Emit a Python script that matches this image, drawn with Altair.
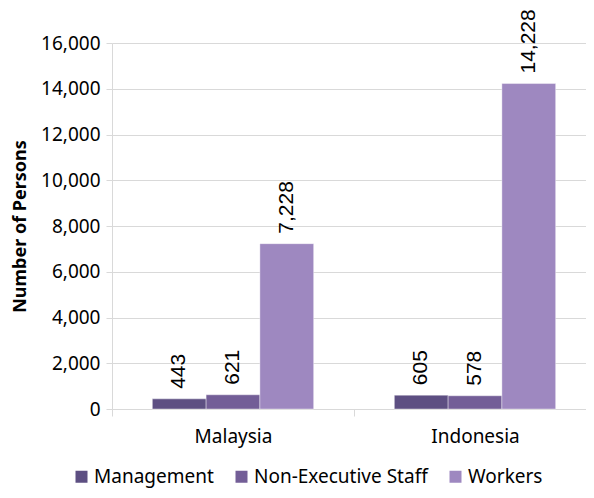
import altair as alt
import pandas as pd

countries = ["Malaysia", "Indonesia"]
series = ["Management", "Non-Executive Staff", "Workers"]
management = [443, 605]
non_executive = [621, 578]
workers = [7228, 14228]
colors = ["#5d4f82", "#735e97", "#9e88c0"]
y_ticks = [0, 2000, 4000, 6000, 8000, 10000, 12000, 14000, 16000]

rows = []
for name, vals in zip(series, [management, non_executive, workers]):
    for c, v in zip(countries, vals):
        rows.append({"country": c, "series": name, "value": v})
df = pd.DataFrame(rows)

FONT = "Noto Sans"
GRID = "#d9d9d9"

base = alt.Chart(df).encode(
    x=alt.X(
        "country:N",
        sort=countries,
        scale=alt.Scale(paddingInner=0, paddingOuter=0, range=[0, 484]),
        axis=alt.Axis(
            title=None,
            tickBand="extent",
            labelAngle=0,
            labelFontSize=19,
            labelFont=FONT,
            labelColor="#000000",
            labelPadding=11,
            domainColor=GRID,
            tickColor=GRID,
            tickSize=7,
        ),
    ),
    xOffset=alt.XOffset(
        "series:N", sort=series, scale=alt.Scale(paddingInner=0, paddingOuter=0.75)
    ),
    y=alt.Y(
        "value:Q",
        scale=alt.Scale(domain=[0, 16000], nice=False),
        axis=alt.Axis(
            values=y_ticks,
            format=",.0f",
            title="Number of Persons",
            titleFont=FONT,
            titleFontSize=18,
            titleFontWeight="bold",
            titleColor="#000000",
            titlePadding=11,
            labelFont=FONT,
            labelFontSize=19,
            labelColor="#000000",
            labelPadding=6,
            gridColor=GRID,
            domainColor=GRID,
            tickColor=GRID,
            tickSize=6,
        ),
    ),
)

bars = base.mark_bar(stroke="#ffffff", strokeWidth=0.8, strokeOpacity=0.5).encode(
    color=alt.Color(
        "series:N",
        sort=series,
        scale=alt.Scale(domain=series, range=colors),
        legend=alt.Legend(
            title=None,
            orient="none",
            direction="horizontal",
            columns=3,
            legendX=-40,
            legendY=424,
            symbolType="square",
            symbolSize=144,
            symbolStrokeWidth=0,
            symbolOpacity=1,
            labelFont=FONT,
            labelFontSize=19,
            labelColor="#000000",
            labelOffset=3,
            labelLimit=400,
            columnPadding=18,
        ),
    )
)

labels = base.mark_text(
    angle=270,
    align="left",
    baseline="middle",
    dx=10,
    font="Liberation Sans",
    fontSize=21,
    color="#000000",
).encode(text=alt.Text("value:Q", format=",.0f"))

chart = (
    alt.layer(bars, labels)
    .properties(
        width=474,
        height=366,
        autosize=alt.AutoSizeParams(type="none"),
        padding={"left": 104, "top": 35, "right": 0, "bottom": 81},
    )
    .configure_view(stroke=None)
)

chart.save("out.html", embed_options={"renderer": "svg", "actions": False})
